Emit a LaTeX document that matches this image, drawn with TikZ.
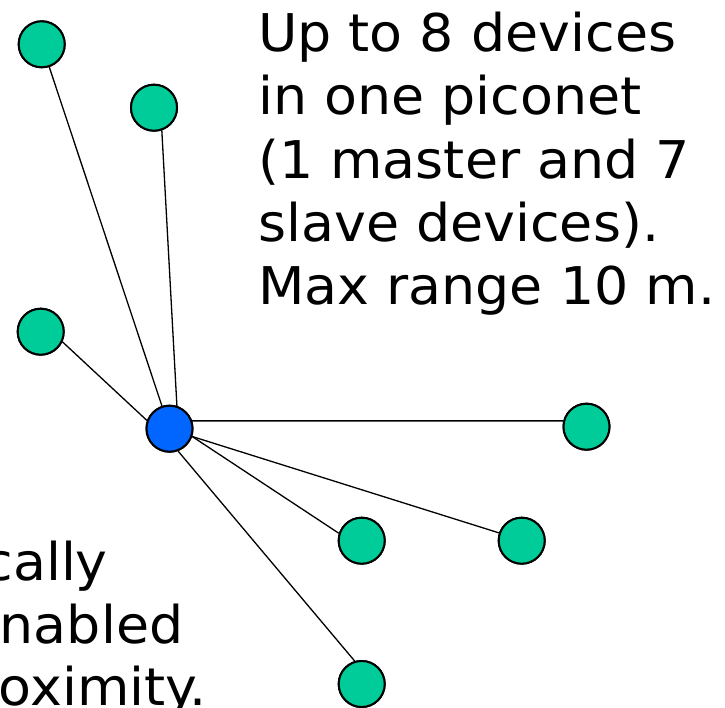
\documentclass[tikz,border=0pt]{standalone}
\usepackage{fontspec}
\setmainfont{DejaVu Sans}
\newfontfamily\captionfont[FakeStretch=1.035]{DejaVu Sans}
\definecolor{slavegreen}{RGB}{0,204,153}
\definecolor{masterblue}{RGB}{0,102,255}
\begin{document}
\begin{tikzpicture}[x=1pt,y=-1pt,
  device/.style={circle,draw=black,line width=2pt,minimum size=46pt,inner sep=0pt},
  slave/.style={device,fill=slavegreen},
  master/.style={device,fill=masterblue},
  link/.style={draw=black,line width=1.3pt},
  caption/.style={font=\captionfont\fontsize{52}{63}\selectfont,inner sep=0pt,text=black}]
\useasboundingbox (0,0) rectangle (725,708);
\clip (0,0) rectangle (725,708);

% links from the master to each slave (drawn first, circles go on top)
\coordinate (pm) at (169.5,428.7);
\node[master] (m)  at (pm) {};
\node[slave]  (s1) at (41.7,44.3)   {};
\node[slave]  (s2) at (154,107.7)   {};
\node[slave]  (s3) at (40.7,331.7)  {};
\node[slave]  (s4) at (586.5,426.7) {};
\node[slave]  (s5) at (361.7,540.7) {};
\node[slave]  (s6) at (521.7,540.7) {};
\node[slave]  (s7) at (361.7,684)   {};

\path[link] (s1) -- (m);
\path[link] (s2.-71) -- (m.72);
\path[link] (s3.-25) -- (m.160);
\path[link] (m.19) -- (s4.166);
\path[link] (m.-19) -- (s5.162);
\path[link] (m.-19) -- (s6.161);
\path[link] (m.-69) -- (s7.107);

% redraw the circles above the link ends
\node[master] at (m) {};
\foreach \s in {s1,s2,s3,s4,s5,s6,s7} \node[slave] at (\s) {};

% description of the piconet
\node[caption,anchor=base west] (t1) at (258,51.7)  {Up to 8 devices};
\node[caption,anchor=base west] (t2) at (258,115)   {in one piconet};
\node[caption,anchor=base west] (t3) at (258,178.3) {(1 master and 7};
\node[caption,anchor=base west] (t4) at (258,241.7) {slave devices).};
\node[caption,anchor=base west] (t5) at (258,305)   {Max range 10 m.};

% text running in from the left edge
\node[caption,anchor=base east] (b1) at (108,580)   {cally};
\node[caption,anchor=base east] (b2) at (183.5,643.3) {enabled};
\node[caption,anchor=base east] (b3) at (207,705.5) {oximity.};
\end{tikzpicture}
\end{document}
